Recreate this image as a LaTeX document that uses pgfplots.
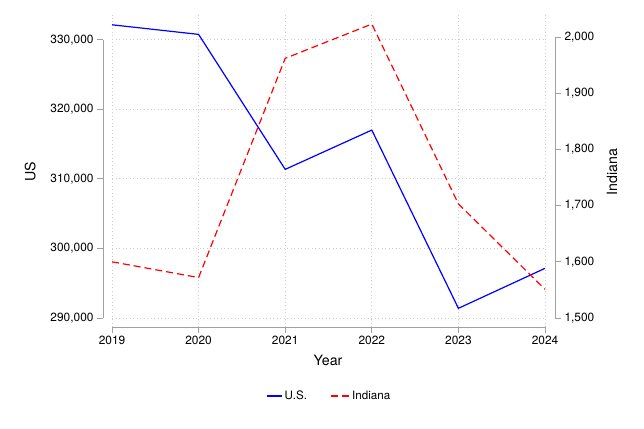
\documentclass[border=0pt]{standalone}
\usepackage{pgfplots}
\pgfplotsset{compat=1.18}
\usepackage{fontspec}
\setmainfont{TeX Gyre Heros}
\definecolor{axcol}{RGB}{160,160,160}
\definecolor{gridcol}{RGB}{205,205,205}
\pgfplotsset{
  usleg/.style={legend image code/.code={\draw[##1] (0pt,0pt) -- (15pt,0pt);}},
  inleg/.style={legend image code/.code={\draw[##1] (0pt,0pt) -- (19pt,0pt);}},
}
\begin{document}
\begin{tikzpicture}[x=1pt,y=1pt]
\path[use as bounding box] (0,0) rectangle (644,428);
\pgfplotsset{
  base/.style={
    scale only axis, width=433pt, height=312pt,
    at={(112pt,101pt)}, anchor=south west,
    xmin=2019, xmax=2024, clip=false,
    tick align=outside, major tick length=6pt,
    tick style={draw=axcol, line width=0.8pt},
    ticklabel style={font=\fontsize{11.9}{14}\selectfont},
    /pgf/number format/assume math mode=true,
    scaled y ticks=false,
  }
}
\begin{axis}[base,
  axis x line*=bottom, axis y line*=left,
  x axis line style={draw=axcol, line width=0.8pt, -},
  y axis line style={draw=none},
  ymin=288706, ymax=333547,
  xtick={2019,2020,2021,2022,2023,2024},
  xticklabels={2019,2020,2021,2022,2023,2024},
  ytick={290000,300000,310000,320000,330000},
  yticklabels={290{,}000,300{,}000,310{,}000,320{,}000,330{,}000},
  ytick style={xshift=-9pt},
  yticklabel style={xshift=-9pt},
  grid=major,
  major grid style={draw=gridcol, line width=0.8pt, dash pattern=on 1pt off 2.5pt},
  xlabel={Year}, ylabel={US},
  every axis x label/.style={at={(rel axis cs:0.499,-0.106)}, anchor=center, font=\fontsize{14.2}{17}\selectfont},
  every axis y label/.style={at={(rel axis cs:-0.189,0.497)}, anchor=center, rotate=90, font=\fontsize{14.2}{17}\selectfont},
  legend style={at={(rel axis cs:0.502,-0.221)}, anchor=center, draw=none, fill=none,
    legend columns=2, font=\fontsize{11.6}{14}\selectfont,
    /tikz/every even column/.append style={column sep=21pt}},
]
\addplot[blue, line width=1.2pt, usleg] coordinates {
  (2019,332140) (2020,330760) (2021,311360) (2022,317010) (2023,291390) (2024,297140)};
\addlegendentry{U.S.}
\addlegendimage{red, line width=1.2pt, dash pattern=on 7pt off 4pt, inleg}
\addlegendentry{Indiana}
\draw[axcol, line width=0.8pt] ([xshift=-9pt]axis cs:2019,290000) -- ([xshift=-9pt]axis cs:2019,330000);
\end{axis}
\begin{axis}[base,
  axis x line=none, axis y line*=right,
  y axis line style={draw=none},
  ymin=1484, ymax=2039.1,
  ytick={1500,1600,1700,1800,1900,2000},
  yticklabels={1{,}500,1{,}600,1{,}700,1{,}800,1{,}900,2{,}000},
  ytick style={xshift=10pt},
  yticklabel style={xshift=10pt},
  ylabel={Indiana},
  every axis y label/.style={at={(rel axis cs:1.155,0.497)}, anchor=center, rotate=90, font=\fontsize{14.2}{17}\selectfont},
]
\addplot[red, line width=1.2pt, dash pattern=on 7pt off 4pt] coordinates {
  (2019,1600) (2020,1572) (2021,1962) (2022,2023) (2023,1703) (2024,1551)};
\draw[axcol, line width=0.8pt] ([xshift=10pt]axis cs:2024,1500) -- ([xshift=10pt]axis cs:2024,2000);
\end{axis}
\end{tikzpicture}
\end{document}
